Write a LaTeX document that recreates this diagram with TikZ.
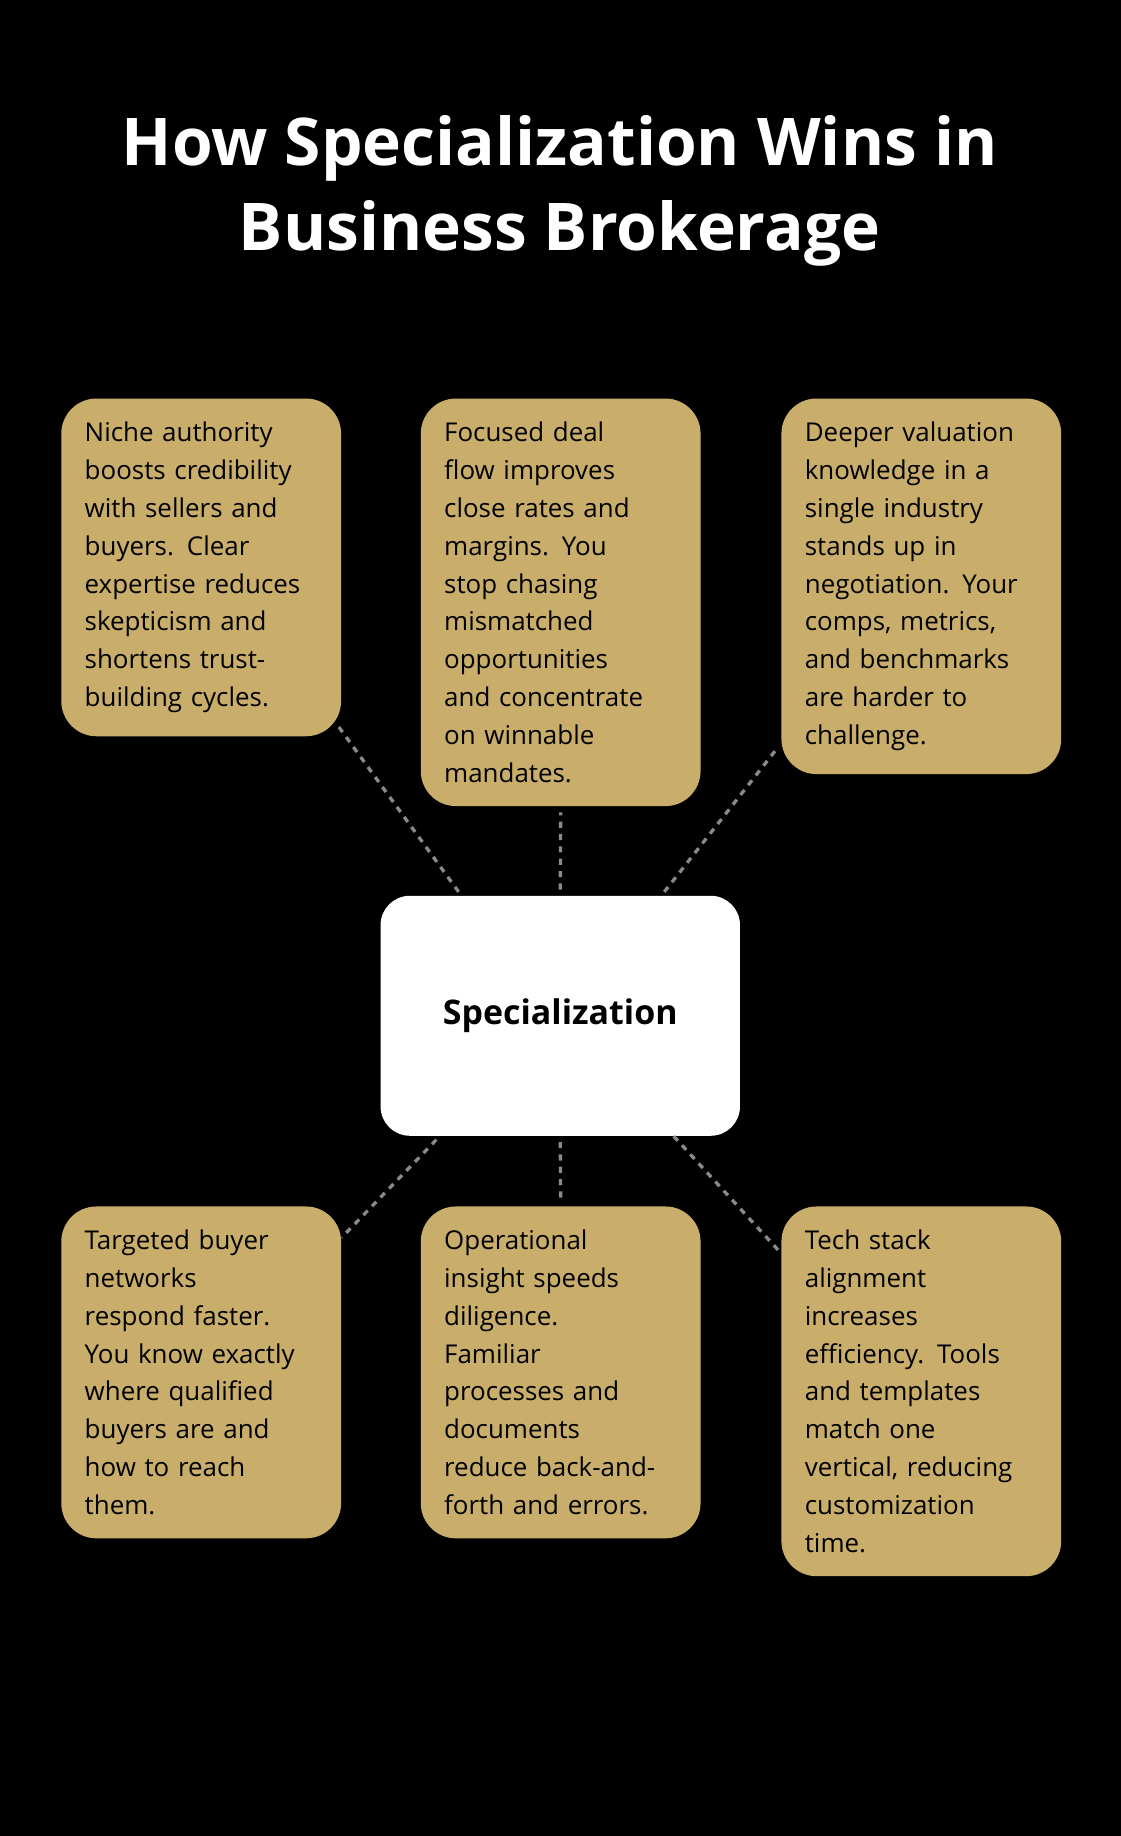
\documentclass[tikz,border=0pt]{standalone}
\usepackage{fontspec}
\setmainfont{Open Sans}
\usetikzlibrary{positioning,calc}
\definecolor{gold}{HTML}{C8AE6A}
\definecolor{linkgray}{HTML}{8A8A8A}
\tikzset{
  card/.style={fill=gold, rounded corners=0.6cm, anchor=north west, inner sep=0.4cm,
    text width=3.98cm, align=left, font=\fontsize{12.6}{18.4}\selectfont, text=black},
  hub/.style={fill=white, rounded corners=0.5cm, minimum width=6.14cm, minimum height=4.1cm,
    font=\bfseries\fontsize{16.5}{20}\selectfont},
  link/.style={draw=linkgray, line width=1.6pt, dash pattern=on 3pt off 3pt}
}
\begin{document}
\begin{tikzpicture}[x=0.02cm, y=-0.02cm]
\useasboundingbox[fill=black] (0,0) rectangle (957,1568);
% title
\node[text=white, font=\bfseries\fontsize{32}{41.5}\selectfont, align=center] (title) at (478,163)
  {How Specialization Wins in\\Business Brokerage};
% top row
\node[card] (authority) at (52,340) {Niche authority\\boosts credibility\\with sellers and\\buyers. Clear\\expertise reduces\\skepticism and\\shortens trust-\\building cycles.};
\node[card] (dealflow) at (359,340) {Focused deal\\flow improves\\close rates and\\margins. You\\stop chasing\\mismatched\\opportunities\\and concentrate\\on winnable\\mandates.};
\node[card] (valuation) at (667,340) {Deeper valuation\\knowledge in a\\single industry\\stands up in\\negotiation. Your\\comps, metrics,\\and benchmarks\\are harder to\\challenge.};
% bottom row
\node[card] (buyers) at (52,1030) {Targeted buyer\\networks\\respond faster.\\You know exactly\\where qualified\\buyers are and\\how to reach\\them.};
\node[card] (insight) at (359,1030) {Operational\\insight speeds\\diligence.\\Familiar\\processes and\\documents\\reduce back-and-\\forth and errors.};
\node[card] (techstack) at (667,1030) {Tech stack\\alignment\\increases\\efficiency. Tools\\and templates\\match one\\vertical, reducing\\customization\\time.};
% hub
\node[hub] (spec) at (478.5,867.5) {Specialization};
% links
\draw[link] ($(spec.north west)+(67,-3)$) -- ($(authority.south east)+(-5,-12)$);
\draw[link] ($(spec.north)+(0,-5)$) -- ($(dealflow.south)+(0,5)$);
\draw[link] ($(spec.north east)+(-65,-3)$) -- ($(valuation.south west)+(-2,-24)$);
\draw[link] ($(spec.south west)+(48,3)$) -- ($(buyers.north east)+(0,27)$);
\draw[link] ($(spec.south)+(0,5)$) -- ($(insight.north)+(0,-5)$);
\draw[link] ($(spec.south east)+(-57,0)$) -- ($(techstack.north west)+(-2,38)$);
\end{tikzpicture}
\end{document}
